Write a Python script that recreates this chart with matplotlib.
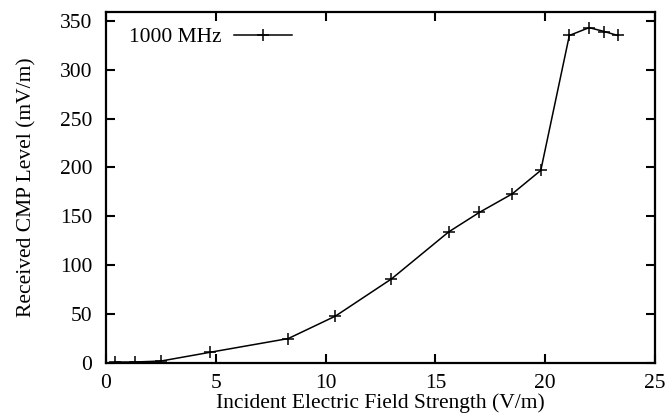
import numpy as np
import matplotlib
matplotlib.use('Agg')
import matplotlib.pyplot as plt

# field strength (V/m) vs received CMP level (mV/m), 1000 MHz
fieldStrength = [0.4, 1.3, 2.5, 4.75, 8.3, 10.45, 13.0, 15.6, 17.0, 18.5, 19.8, 21.1, 22.0, 22.7, 23.3]
cmpLevel = [1, 1, 2, 11, 25, 48, 86, 134, 154, 173, 197, 335, 343, 339, 335]
xTicks = [0, 5, 10, 15, 20, 25]
yTicks = [0, 50, 100, 150, 200, 250, 300, 350]

plt.rcParams['font.family'] = ['Liberation Serif', 'DejaVu Serif']
plt.rcParams['font.size'] = 15.5

fig = plt.figure(figsize=(6.68, 4.15), dpi=100)
ax = fig.add_axes([0.1587, 0.1253, 0.8218, 0.8458])
ax.plot(fieldStrength, cmpLevel, 'k-', marker='+', markersize=9, markeredgewidth=1.1,
        linewidth=1.1, label='1000 MHz')

ax.set_xlim(0, 25)
ax.set_ylim(0, 359)
ax.set_xticks(xTicks)
ax.set_yticks(yTicks)
ax.tick_params(direction='in', length=6.5, width=1.5, top=True, right=True, pad=8)
ax.tick_params(axis='y', pad=10)
for s in ax.spines.values():
    s.set_linewidth(1.6)

ax.set_xlabel('Incident Electric Field Strength (V/m)', labelpad=0)
ax.set_ylabel('Received CMP Level (mV/m)', labelpad=17)

leg = ax.legend(loc='upper left', bbox_to_anchor=(0.015, 1.0), frameon=False, markerfirst=False,
                handlelength=2.7, borderaxespad=0.3, handletextpad=0.55)

fig.savefig('out.png', dpi=100)
